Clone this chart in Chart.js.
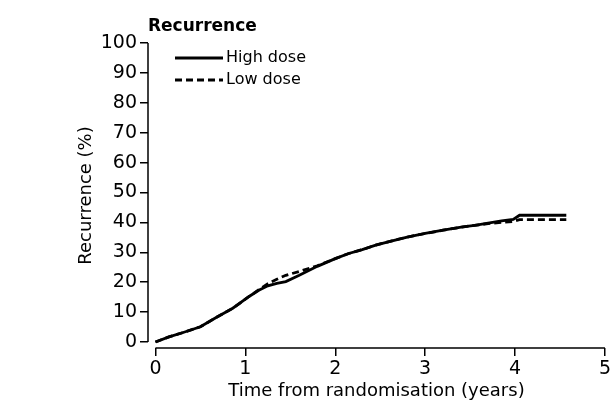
<!DOCTYPE html>
<html>
<head>
<meta charset="utf-8">
<script src="https://cdn.jsdelivr.net/npm/chart.js@4.4.1/dist/chart.umd.min.js"></script>
<style>
  html, body { margin: 0; padding: 0; background: #fff; }
  #wrap { width: 613px; height: 405px; }
</style>
</head>
<body>
<div id="wrap"><canvas id="chart"></canvas></div>
<script>
// years from randomisation
const years = [0, 0.15, 0.3, 0.5, 0.68, 0.86, 1.05, 1.15, 1.25, 1.35, 1.45, 1.6, 1.8, 2.0, 2.15, 2.3, 2.45, 2.6, 2.8, 3.0, 3.2, 3.4, 3.55, 3.7, 3.85, 3.98, 4.05, 4.57];
// cumulative recurrence (%)
const highDose = [0, 1.7, 3.1, 5.1, 8.3, 11.3, 15.4, 17.3, 18.8, 19.6, 20.2, 22.3, 25.3, 27.9, 29.6, 30.9, 32.4, 33.6, 35.1, 36.3, 37.4, 38.4, 39.0, 39.8, 40.5, 41.0, 42.4, 42.4];
const lowDose = [0, 1.7, 3.1, 5.1, 8.3, 11.3, 15.4, 17.5, 19.5, 21.0, 22.3, 23.6, 25.5, 27.9, 29.6, 30.9, 32.4, 33.6, 35.1, 36.3, 37.4, 38.4, 39.0, 39.6, 40.0, 40.3, 40.9, 40.9];
const seriesNames = ['High dose', 'Low dose'];
const xTicks = [0, 1, 2, 3, 4, 5];
const yTicks = [0, 10, 20, 30, 40, 50, 60, 70, 80, 90, 100];

Chart.defaults.font.family = '"DejaVu Sans", sans-serif';
Chart.defaults.color = '#000';

const toPoints = (vals) => vals.map((v, i) => ({ x: years[i], y: v }));

// axis lines only span the tick range (detached axes)
const axisLines = {
  id: 'axisLines',
  afterDraw(chart) {
    const { ctx, chartArea, scales } = chart;
    const x = scales.x, y = scales.y;
    ctx.save();
    ctx.strokeStyle = '#000';
    ctx.lineWidth = 1.5;
    ctx.beginPath();
    ctx.moveTo(chartArea.left, y.getPixelForValue(yTicks[yTicks.length - 1]));
    ctx.lineTo(chartArea.left, y.getPixelForValue(yTicks[0]));
    ctx.moveTo(x.getPixelForValue(xTicks[0]), chartArea.bottom);
    ctx.lineTo(x.getPixelForValue(xTicks[xTicks.length - 1]), chartArea.bottom);
    ctx.stroke();
    ctx.restore();
  }
};

// small line legend inside the plot, top left
const lineLegend = {
  id: 'lineLegend',
  afterDraw(chart) {
    const { ctx, chartArea } = chart;
    const x0 = chartArea.left + 27;
    ctx.save();
    ctx.font = '16px "DejaVu Sans"';
    ctx.textBaseline = 'middle';
    ctx.fillStyle = '#000';
    chart.data.datasets.forEach((ds, i) => {
      const yy = chartArea.top + 15 + i * 22;
      ctx.strokeStyle = ds.borderColor;
      ctx.lineWidth = ds.borderWidth;
      ctx.setLineDash(ds.borderDash || []);
      ctx.beginPath();
      ctx.moveTo(x0, yy);
      ctx.lineTo(x0 + 48, yy);
      ctx.stroke();
      ctx.fillText(ds.label, x0 + 51, yy);
    });
    ctx.restore();
  }
};

new Chart(document.getElementById('chart'), {
  type: 'line',
  data: {
    datasets: [
      {
        label: seriesNames[0],
        data: toPoints(highDose),
        borderColor: '#000',
        borderWidth: 2.8,
        pointRadius: 0,
        tension: 0,
        fill: false
      },
      {
        label: seriesNames[1],
        data: toPoints(lowDose),
        borderColor: '#000',
        borderWidth: 2.8,
        borderDash: [7, 4],
        pointRadius: 0,
        tension: 0,
        fill: false
      }
    ]
  },
  options: {
    responsive: true,
    maintainAspectRatio: false,
    animation: false,
    layout: { padding: { left: 0, right: 7.5, top: 0, bottom: 0 } },
    plugins: {
      legend: { display: false },
      tooltip: { enabled: false },
      title: {
        display: true,
        text: 'Recurrence',
        align: 'start',
        fullSize: false,
        font: { size: 17, weight: 'bold' },
        color: '#000',
        padding: { top: 16, bottom: 6.6 }
      }
    },
    scales: {
      x: {
        type: 'linear',
        min: -0.083,
        max: 5,
        afterBuildTicks: (s) => { s.ticks = xTicks.map(v => ({ value: v })); },
        afterFit: (s) => { s.height = 57; },
        grid: { display: true, drawOnChartArea: false, drawTicks: true, tickLength: 8, color: '#000', lineWidth: 1.5 },
        border: { display: false },
        ticks: { font: { size: 19 }, color: '#000', padding: 2, maxRotation: 0 },
        title: {
          display: true,
          text: 'Time from randomisation (years)',
          font: { size: 18 },
          color: '#000',
          padding: { top: 0, bottom: 2.4 }
        }
      },
      y: {
        type: 'linear',
        min: -2,
        max: 100,
        afterBuildTicks: (s) => { s.ticks = yTicks.map(v => ({ value: v })); },
        afterFit: (s) => { s.width = 148; },
        grid: { display: true, drawOnChartArea: false, drawTicks: true, tickLength: 8, color: '#000', lineWidth: 1.5 },
        border: { display: false },
        ticks: { font: { size: 19 }, color: '#000', padding: 3 },
        title: {
          display: true,
          text: 'Recurrence (%)',
          font: { size: 18 },
          color: '#000',
          padding: { top: 76, bottom: 0 }
        }
      }
    }
  },
  plugins: [axisLines, lineLegend]
});
</script>
</body>
</html>
